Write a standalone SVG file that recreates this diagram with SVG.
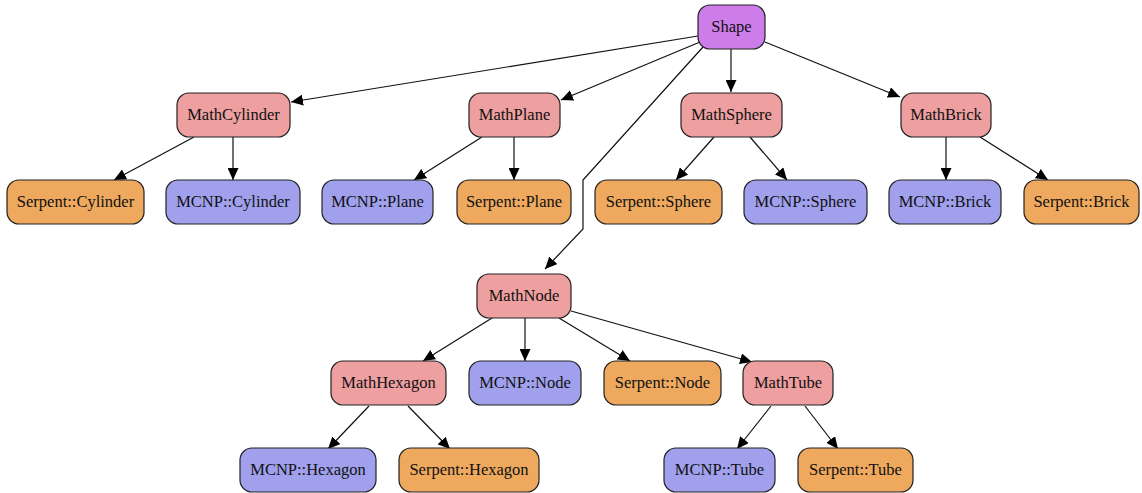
<svg xmlns="http://www.w3.org/2000/svg" width="1142" height="493" viewBox="0 0 1142 493">
<style>
.n rect{stroke:#222;stroke-width:1.2}
.shape rect{fill:#cc7de9}
.math rect{fill:#ee9fa0}
.mcnp rect{fill:#a0a0ed}
.serp rect{fill:#eea95e}
text{font-family:"Liberation Serif","Times New Roman",serif;font-size:16.5px;fill:#111;text-anchor:middle;dominant-baseline:central}
#edges path{fill:none;stroke:#111;stroke-width:1.2;marker-end:url(#ah)}
</style>
<defs>
<marker id="ah" markerUnits="userSpaceOnUse" markerWidth="13" markerHeight="11" refX="12" refY="5.5" orient="auto" viewBox="0 0 13 11">
<path d="M0,0 L12,5.5 L0,11 Z" fill="#000"/>
</marker>
</defs>
<g id="edges">
<path d="M698,36 L291,102"/>
<path d="M700,42 L561,100"/>
<path d="M703,47 L583,180 L583,229 L545,269"/>
<path d="M731,49 L731,92"/>
<path d="M765,42 L900,97"/>
<path d="M194,137 L114,180"/>
<path d="M233,137 L233,180"/>
<path d="M482,137 L414,180"/>
<path d="M514,137 L514,180"/>
<path d="M714,137 L676,180"/>
<path d="M750,137 L787,180"/>
<path d="M946,137 L946,180"/>
<path d="M980,137 L1048,180"/>
<path d="M492,318 L423,361"/>
<path d="M525,318 L525,361"/>
<path d="M559,318 L630,361"/>
<path d="M571,311 L752,362"/>
<path d="M369,406 L328,449"/>
<path d="M408,406 L450,449"/>
<path d="M771,406 L737,449"/>
<path d="M805,406 L838,449"/>
</g>
<g id="Shape" class="n shape"><rect x="698" y="5" width="67" height="44" rx="12"/><text x="731.5" y="26.5">Shape</text></g>
<g id="MathCylinder" class="n math"><rect x="177" y="93" width="113" height="44" rx="12"/><text x="233.5" y="114.5">MathCylinder</text></g>
<g id="MathPlane" class="n math"><rect x="469" y="93" width="91" height="44" rx="12"/><text x="514.5" y="114.5">MathPlane</text></g>
<g id="MathSphere" class="n math"><rect x="681" y="93" width="101" height="44" rx="12"/><text x="731.5" y="114.5">MathSphere</text></g>
<g id="MathBrick" class="n math"><rect x="901" y="93" width="90" height="44" rx="12"/><text x="946" y="114.5">MathBrick</text></g>
<g id="SerpentCylinder" class="n serp"><rect x="7" y="180" width="137" height="44" rx="12"/><text x="75.5" y="201.5">Serpent::Cylinder</text></g>
<g id="MCNPCylinder" class="n mcnp"><rect x="166" y="180" width="134" height="44" rx="12"/><text x="233" y="201.5">MCNP::Cylinder</text></g>
<g id="MCNPPlane" class="n mcnp"><rect x="322" y="180" width="111" height="44" rx="12"/><text x="377.5" y="201.5">MCNP::Plane</text></g>
<g id="SerpentPlane" class="n serp"><rect x="457" y="180" width="114" height="44" rx="12"/><text x="514" y="201.5">Serpent::Plane</text></g>
<g id="SerpentSphere" class="n serp"><rect x="595" y="180" width="127" height="44" rx="12"/><text x="658.5" y="201.5">Serpent::Sphere</text></g>
<g id="MCNPSphere" class="n mcnp"><rect x="744" y="180" width="123" height="44" rx="12"/><text x="805.5" y="201.5">MCNP::Sphere</text></g>
<g id="MCNPBrick" class="n mcnp"><rect x="889" y="180" width="112" height="44" rx="12"/><text x="945" y="201.5">MCNP::Brick</text></g>
<g id="SerpentBrick" class="n serp"><rect x="1024" y="180" width="115" height="44" rx="12"/><text x="1081.5" y="201.5">Serpent::Brick</text></g>
<g id="MathNode" class="n math"><rect x="477" y="274" width="94" height="44" rx="12"/><text x="524" y="295.5">MathNode</text></g>
<g id="MathHexagon" class="n math"><rect x="331" y="361" width="115" height="44" rx="12"/><text x="388.5" y="382.5">MathHexagon</text></g>
<g id="MCNPNode" class="n mcnp"><rect x="469" y="361" width="112" height="44" rx="12"/><text x="525" y="382.5">MCNP::Node</text></g>
<g id="SerpentNode" class="n serp"><rect x="604" y="361" width="117" height="44" rx="12"/><text x="662.5" y="382.5">Serpent::Node</text></g>
<g id="MathTube" class="n math"><rect x="743" y="361" width="90" height="44" rx="12"/><text x="788" y="382.5">MathTube</text></g>
<g id="MCNPHexagon" class="n mcnp"><rect x="240" y="448" width="136" height="44" rx="12"/><text x="308" y="469.5">MCNP::Hexagon</text></g>
<g id="SerpentHexagon" class="n serp"><rect x="399" y="448" width="140" height="44" rx="12"/><text x="469" y="469.5">Serpent::Hexagon</text></g>
<g id="MCNPTube" class="n mcnp"><rect x="664" y="448" width="111" height="44" rx="12"/><text x="719.5" y="469.5">MCNP::Tube</text></g>
<g id="SerpentTube" class="n serp"><rect x="798" y="448" width="115" height="44" rx="12"/><text x="855.5" y="469.5">Serpent::Tube</text></g>
</svg>
